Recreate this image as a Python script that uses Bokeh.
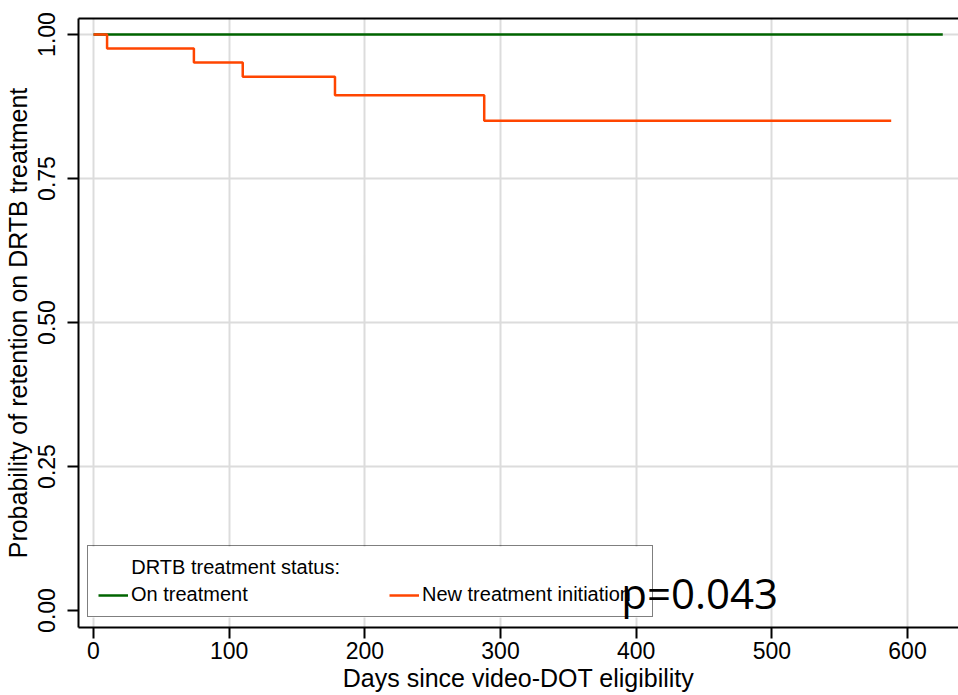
from bokeh.plotting import figure
from bokeh.models import (Legend, LegendItem, Label, LinearAxis, FixedTicker,
                          Range1d, CustomJSTickFormatter, BoxAnnotation)
from bokeh.embed import file_html
from bokeh.resources import INLINE

# ---- data ----
on_days = [0, 626]
on_surv = [1.0, 1.0]
new_days = [0, 10, 74, 110, 178, 288, 588]
new_surv = [1.0, 0.9757, 0.9514, 0.9266, 0.8946, 0.8502, 0.8502]
x_ticks = [0, 100, 200, 300, 400, 500, 600]
y_ticks = [0.0, 0.25, 0.5, 0.75, 1.0]
y_grid = [0.25, 0.5, 0.75, 1.0]
p_text = "p=0.043"

FONT = "Liberation Sans"

p = figure(width=958, height=695, output_backend="svg", toolbar_location=None,
           x_range=Range1d(-11.06, 637.6), y_range=Range1d(-0.02951, 1.02778),
           min_border_left=78, min_border_right=0, min_border_top=18,
           min_border_bottom=68)
p.outline_line_color = None
p.background_fill_color = "white"
p.border_fill_color = "white"

# axes
p.xaxis.ticker = FixedTicker(ticks=x_ticks)
p.yaxis.ticker = FixedTicker(ticks=y_ticks)
p.yaxis.formatter = CustomJSTickFormatter(code="return tick.toFixed(2);")
for ax in (p.xaxis[0], p.yaxis[0]):
    ax.axis_line_color = "black"
    ax.axis_line_width = 2
    ax.major_tick_line_color = "black"
    ax.major_tick_line_width = 2
    ax.major_tick_out = 11
    ax.major_tick_in = 0
    ax.minor_tick_line_color = None
    ax.major_label_text_font = FONT
    ax.major_label_text_font_size = "23px"
    ax.major_label_text_color = "black"
    ax.axis_label_text_font = FONT
    ax.axis_label_text_font_size = "25px"
    ax.axis_label_text_font_style = "normal"
    ax.axis_label_text_color = "black"
p.xaxis.major_label_standoff = 3
p.xaxis.axis_label_standoff = 2
p.yaxis.major_label_standoff = 12
p.yaxis.axis_label_standoff = 4
p.xaxis.axis_label = "Days since video-DOT eligibility"
p.yaxis.axis_label = "Probability of retention on DRTB treatment"
p.yaxis.major_label_orientation = "vertical"

top_axis = LinearAxis(ticker=FixedTicker(ticks=[]), axis_line_color="black",
                      axis_line_width=2, major_label_text_font_size="0px",
                      major_tick_line_color=None, minor_tick_line_color=None)
p.add_layout(top_axis, "above")

# grid
p.xgrid.ticker = FixedTicker(ticks=x_ticks)
p.ygrid.ticker = FixedTicker(ticks=y_grid)
p.xgrid.grid_line_color = "#DCDCDC"
p.ygrid.grid_line_color = "#DCDCDC"
p.xgrid.grid_line_width = 2
p.ygrid.grid_line_width = 2

# white backing of the legend box (hides grid lines)
backing = BoxAnnotation(left=9, right=573, bottom=10, top=81,
                        left_units="screen", right_units="screen",
                        bottom_units="screen", top_units="screen",
                        fill_color="white", fill_alpha=1.0, line_color=None,
                        level="underlay", editable=False)
p.add_layout(backing)

# lines
r_on = p.step(on_days, on_surv, mode="after", line_color="#006400", line_width=2.5)
r_new = p.step(new_days, new_surv, mode="after", line_color="#FF4500", line_width=2.5)

legend = Legend(items=[LegendItem(label="On treatment", renderers=[r_on]),
                       LegendItem(label="New treatment initiation", renderers=[r_new])],
                orientation="horizontal", location=(9, 10),
                title="\u00a0" * 6 + "DRTB treatment status:",
                title_text_font=FONT, title_text_font_size="20px",
                title_text_font_style="normal", title_text_color="black",
                title_standoff=4,
                label_text_font=FONT, label_text_font_size="20px",
                label_text_color="black",
                glyph_width=30, glyph_height=20, label_standoff=3,
                label_width=220, spacing=38, padding=10, margin=0,
                border_line_color="black", border_line_width=1.5,
                background_fill_alpha=0.0)
p.add_layout(legend, "center")

lab = Label(x=389, y=0.03125, text=p_text, text_font="Open Sans",
            text_font_size="42px", text_color="black", text_baseline="alphabetic",
            text_align="left", level="overlay")
p.add_layout(lab)

open("out.html", "w").write(file_html(p, INLINE))
